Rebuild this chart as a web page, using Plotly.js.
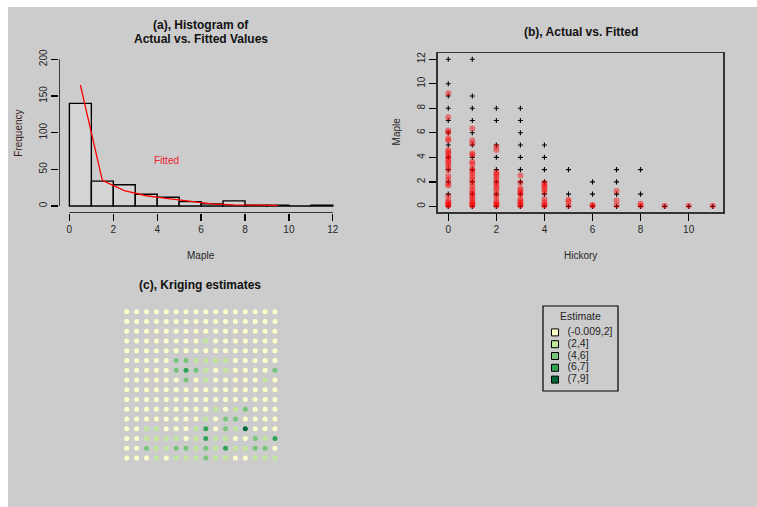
<!DOCTYPE html>
<html>
<head>
<meta charset="utf-8">
<script src="https://cdn.plot.ly/plotly-3.0.1.min.js"></script>
<style>
  html, body { margin: 0; padding: 0; background: #ffffff; }
  #chart { width: 757px; height: 507px; }
</style>
</head>
<body>
<div id="chart"></div>
<script>
// ---- (a) histogram of Maple counts with fitted frequencies ----
const histBreaks = [0, 1, 2, 3, 4, 5, 6, 7, 8, 9, 10, 11, 12];
const histCounts = [140, 34, 29, 16, 12, 6, 3, 7, 1, 1, 0, 1];
const fittedX = [0.5, 1.5, 2.5, 3.5, 4.5, 5.5, 6.5, 7.5, 8.5, 9.5];
const fittedFreq = [165, 35, 21, 14, 10, 6, 3, 1.5, 1, 1];
const histXTicks = [0, 2, 4, 6, 8, 10, 12];
const histYTicks = [0, 50, 100, 150, 200];

// ---- (b) actual vs fitted Maple against Hickory ----
const actualHickory = [
  0,0,0,0,0,0,0,0,0,0,0,0,
  1,1,1,1,1,1,1,1,1,1,1,
  2,2,2,2,2,2,2,2,
  3,3,3,3,3,3,3,3,3,
  4,4,4,4,4,4,
  5,5,5,
  6,6,6,
  7,7,7,7,
  8,8,8,
  9, 10, 11
];
const actualMaple = [
  12,10,9,8,7,6,5,4,3,2,1,0,
  12,9,8,7,6,5,4,3,2,1,0,
  8,7,5,4,3,2,1,0,
  8,7,6,5,4,3,2,1,0,
  5,4,3,2,1,0,
  3,1,0,
  2,1,0,
  3,2,1,0,
  3,1,0,
  0, 0, 0
];
const fittedHickory = [
  0,0,0,0,0,0,0,0,0,0,0,0,0,0,0,0,0,0,0,0,0,0,0,0,0,
  1,1,1,1,1,1,1,1,1,1,1,1,1,1,1,1,1,1,1,1,1,1,1,
  2,2,2,2,2,2,2,2,2,2,2,2,2,2,2,2,
  3,3,3,3,3,3,3,3,3,3,3,
  4,4,4,4,4,4,4,4,4,
  5,5,5,
  6,6,
  7,7,7,
  8,8,
  9, 10, 11
];
const fittedMaple = [
  9.23,7.26,6.19,6.03,5.53,5.37,4.6,4.44,4.25,4.05,3.84,3.64,3.45,3.23,2.96,2.47,2.19,1.86,1.70,0.82,0.49,0.33,0.22,0.14,0.05,
  6.36,5.37,5.1,4.33,4.19,3.64,3.45,3.1,2.9,2.68,2.41,2.19,1.92,1.64,1.37,1.15,0.99,0.77,0.60,0.38,0.27,0.16,0.05,
  4.88,4.60,2.79,2.63,2.41,2.19,1.92,1.75,1.53,1.32,0.99,0.77,0.44,0.27,0.16,0.05,
  2.52,1.92,1.45,1.32,1.10,0.99,0.60,0.44,0.27,0.16,0.05,
  1.92,1.75,1.59,1.37,1.15,0.60,0.33,0.16,0.05,
  0.55,0.38,0.05,
  0.11,0.05,
  1.26,0.49,0.10,
  0.22,0.05,
  0.05, 0.05, 0.05
];
const scatterXTicks = [0, 2, 4, 6, 8, 10];
const scatterYTicks = [0, 2, 4, 6, 8, 10, 12];

// ---- (c) kriging estimate class for each grid cell (rows top to bottom) ----
const krigingClass = [
  [1,1,1,1,1,1,1,1,1,1,1,1,1,1,1,1],
  [1,1,1,1,1,1,1,1,1,1,1,1,1,1,1,1],
  [1,1,1,1,1,1,1,1,1,1,1,1,1,1,1,1],
  [1,1,1,1,1,1,1,1,2,1,1,1,1,1,1,1],
  [1,1,1,1,1,1,1,1,1,1,1,1,1,1,1,1],
  [1,1,1,1,1,3,3,2,2,2,2,1,1,1,1,1],
  [1,1,1,1,1,3,4,3,2,1,2,1,1,1,1,3],
  [1,1,1,1,1,1,3,1,2,1,1,1,1,1,2,1],
  [1,1,1,1,1,1,1,1,1,1,1,1,1,1,1,1],
  [1,1,1,1,1,1,1,1,1,1,1,1,1,1,1,1],
  [1,1,1,1,1,1,1,1,1,2,1,2,3,1,1,1],
  [1,1,1,1,1,1,1,1,2,1,3,3,1,1,1,1],
  [1,1,2,2,1,1,1,2,4,1,3,2,5,1,1,1],
  [1,1,2,2,2,2,1,2,4,2,2,1,1,3,2,4],
  [1,1,3,2,2,3,3,2,3,2,4,2,2,3,3,1],
  [1,1,1,2,1,2,2,2,3,2,2,1,1,2,2,2]
];
const classLabels = ["(-0.009,2]", "(2,4]", "(4,6]", "(6,7]", "(7,9]"];
const classColors = ["#FFFFCC", "#C2E699", "#78C679", "#31A354", "#006837"];

// ---- page geometry helpers (pixel -> paper fraction) ----
const W = 757, H = 507;
const px = v => v / W;
const py = v => 1 - v / H;

const FONT = "Liberation Sans, Arial, sans-serif";
const TXT = "#262626";

// histogram bars from breaks
const barMid = histCounts.map((_, i) => (histBreaks[i] + histBreaks[i + 1]) / 2);
const barWidth = histCounts.map((_, i) => histBreaks[i + 1] - histBreaks[i]);

// grid cells
const gx = [], gy = [], gc = [];
krigingClass.forEach((row, r) => row.forEach((k, c) => {
  gx.push(c + 1); gy.push(r + 1); gc.push(classColors[k - 1]);
}));

const traces = [
  {
    type: "bar", x: barMid, y: histCounts, width: barWidth,
    marker: { color: "#d4d4d4", line: { color: "#000000", width: 1.4 } },
    xaxis: "x", yaxis: "y", hoverinfo: "skip"
  },
  {
    type: "scatter", mode: "lines", x: fittedX, y: fittedFreq,
    line: { color: "#ff0000", width: 1.3 },
    xaxis: "x", yaxis: "y", hoverinfo: "skip"
  },
  {
    type: "scatter", mode: "markers", x: actualHickory, y: actualMaple,
    marker: { symbol: "cross-thin", size: 3.6, line: { color: "#000000", width: 1.1 } },
    xaxis: "x2", yaxis: "y2", hoverinfo: "skip"
  },
  {
    type: "scatter", mode: "markers", x: fittedHickory, y: fittedMaple,
    marker: { symbol: "circle", size: 6, color: "rgba(255,0,0,0.45)" },
    xaxis: "x2", yaxis: "y2", hoverinfo: "skip"
  },
  {
    type: "scatter", mode: "markers", x: gx, y: gy,
    marker: { symbol: "circle", size: 5, color: gc },
    xaxis: "x3", yaxis: "y3", hoverinfo: "skip"
  },
  // legend keys
  {
    type: "scatter", mode: "markers",
    x: classLabels.map(() => 0), y: classLabels.map((_, i) => i),
    marker: { symbol: "square", size: 7, color: classColors, line: { color: "#000000", width: 1 } },
    xaxis: "x4", yaxis: "y4", hoverinfo: "skip", cliponaxis: false
  },
  // legend labels
  {
    type: "scatter", mode: "text",
    x: classLabels.map(() => 2.1), y: classLabels.map((_, i) => i),
    text: classLabels, textposition: "middle right",
    textfont: { family: FONT, size: 10.5, color: TXT },
    xaxis: "x4", yaxis: "y4", hoverinfo: "skip", cliponaxis: false
  }
];

const hidden = { showgrid: false, zeroline: false, showticklabels: false, ticks: "", showline: false, fixedrange: true };
const tickFont = { family: FONT, size: 10, color: TXT };

// panel (a) axis ranges
const aXRange = [-0.46, 12.1];
const aYRange = [-9.1, 205];

function note(text, x, y, size, color, extra) {
  return Object.assign({
    text: text, x: px(x), y: py(y), xref: "paper", yref: "paper",
    xanchor: "center", yanchor: "middle", showarrow: false,
    font: { family: FONT, size: size, color: color }
  }, extra || {});
}

const layout = {
  width: W, height: H,
  margin: { l: 0, r: 0, t: 0, b: 0 },
  paper_bgcolor: "#ffffff",
  plot_bgcolor: "rgba(0,0,0,0)",
  showlegend: false,
  font: { family: FONT, color: TXT },

  xaxis: {
    domain: [px(59.3), px(59.3 + (aXRange[1] - aXRange[0]) * 21.95)],
    range: aXRange, anchor: "y",
    tickvals: histXTicks, ticks: "outside", ticklen: 7, tickwidth: 1.3, tickcolor: "#000",
    tickfont: tickFont, showgrid: false, zeroline: false, showline: false, fixedrange: true
  },
  yaxis: {
    domain: [py(212.7), py(212.7 - (aYRange[1] - aYRange[0]) * 0.7335)],
    range: aYRange, anchor: "x",
    tickvals: histYTicks, ticks: "outside", ticklen: 7, tickwidth: 1.3, tickcolor: "#000",
    tickangle: -90, tickfont: tickFont, showgrid: false, zeroline: false, showline: false, fixedrange: true
  },

  xaxis2: {
    domain: [px(437.7), px(723.3)], range: [-0.44, 11.44], anchor: "y2",
    tickvals: scatterXTicks, ticks: "outside", ticklen: 7, tickwidth: 1.3, tickcolor: "#000",
    showline: true, mirror: true, linecolor: "#333333", linewidth: 1.5,
    tickfont: tickFont, showgrid: false, zeroline: false, fixedrange: true
  },
  yaxis2: {
    domain: [py(212.3), py(53.3)], range: [-0.48, 12.48], anchor: "x2",
    tickvals: scatterYTicks, ticks: "outside", ticklen: 7, tickwidth: 1.3, tickcolor: "#000",
    tickangle: -90, showline: true, mirror: true, linecolor: "#333333", linewidth: 1.5,
    tickfont: tickFont, showgrid: false, zeroline: false, fixedrange: true
  },

  xaxis3: Object.assign({ domain: [px(121.8), px(279.9)], range: [0.5, 16.5], anchor: "y3" }, hidden),
  yaxis3: Object.assign({ domain: [py(462.9), py(306.8)], range: [16.5, 0.5], anchor: "x3" }, hidden),

  xaxis4: Object.assign({ domain: [px(549), px(609)], range: [-1, 9], anchor: "y4" }, hidden),
  yaxis4: Object.assign({ domain: [py(385.5), py(326.5)], range: [4.5, -0.5], anchor: "x4" }, hidden),

  shapes: [
    // page background panel
    { type: "rect", xref: "paper", yref: "paper", x0: px(8), x1: 1, y0: 0, y1: py(7),
      fillcolor: "#cccccc", line: { width: 0 }, layer: "below" },
    // panel (a) axis lines spanning the tick range
    { type: "line", xref: "x", yref: "y",
      x0: histXTicks[0], x1: histXTicks[histXTicks.length - 1], y0: aYRange[0], y1: aYRange[0],
      line: { color: "#000000", width: 1.4 } },
    { type: "line", xref: "x", yref: "y",
      x0: aXRange[0], x1: aXRange[0], y0: histYTicks[0], y1: histYTicks[histYTicks.length - 1],
      line: { color: "#000000", width: 1.4 } },
    // legend frame for panel (c)
    { type: "rect", xref: "paper", yref: "paper", x0: px(543), x1: px(618), y0: py(391), y1: py(306),
      line: { color: "#000000", width: 1.2 }, fillcolor: "rgba(0,0,0,0)" }
  ],

  annotations: [
    note("<b>(a), Histogram of</b>", 201, 25, 12, "#111"),
    note("<b>Actual vs. Fitted Values</b>", 201, 39, 12, "#111"),
    note("Maple", 201, 255, 10, TXT),
    note("Frequency", 17.7, 133, 10, "#3a2020", { textangle: -90 }),
    note("Fitted", 166.7, 160, 10, "#ee2233"),

    note("<b>(b), Actual vs. Fitted</b>", 580.5, 31.7, 12, "#111"),
    note("Hickory", 580.5, 255, 10, TXT),
    note("Maple", 396.7, 131.7, 10, TXT, { textangle: -90 }),

    note("<b>(c), Kriging estimates</b>", 200, 285, 12, "#111"),
    note("Estimate", 580, 316, 10.5, TXT)
  ]
};

Plotly.newPlot("chart", traces, layout, { staticPlot: true, displayModeBar: false });
</script>
</body>
</html>
